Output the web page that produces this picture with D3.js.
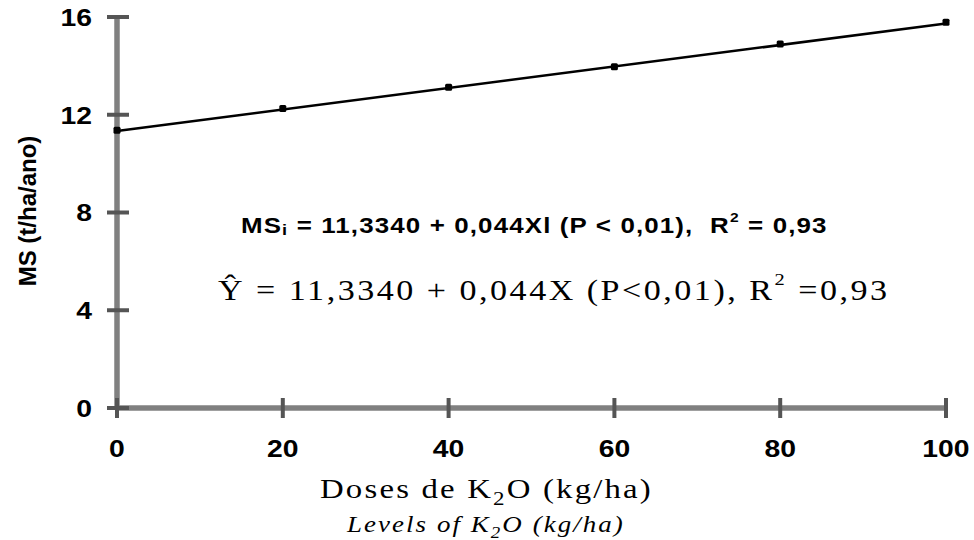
<!DOCTYPE html>
<html>
<head>
<meta charset="utf-8">
<script src="https://cdn.jsdelivr.net/npm/d3@7"></script>
<style>
  html, body { margin: 0; padding: 0; background: #fff; }
  svg { display: block; }
</style>
</head>
<body>
<svg id="chart" width="974" height="540"></svg>
<script>
// ---- data ----
const doses = [0, 20, 40, 60, 80, 100];
const msValues = [11.37, 12.26, 13.13, 13.96, 14.9, 15.79];
const xTicks = [0, 20, 40, 60, 80, 100];
const yTicks = [0, 4, 8, 12, 16];
const intercept = 11.334;
const slope = 0.044;
const eq1Parts = ["MS", "i", " = 11,3340 + 0,044Xl (P < 0,01),  R", "2", " = 0,93"];
const eq2Parts = ["Ŷ = 11,3340 + 0,044X (P<0,01), R", "2", " =0,93"];
const xTitleParts = ["Doses de K", "2", "O (kg/ha)"];
const xSubParts = ["Levels of K", "2", "O (kg/ha)"];
const yTitle = "MS (t/ha/ano)";

// ---- layout ----
const svg = d3.select("#chart");
const x = d3.scaleLinear().domain([0, 100]).range([117, 946]);
const y = d3.scaleLinear().domain([0, 16]).range([408, 17]);
const SX = 1.18; // horizontal stretch of the reference text

const axisG = svg.append("g");
// axis lines
axisG.append("line").attr("x1", x(0)).attr("x2", x(100)).attr("y1", y(0)).attr("y2", y(0))
  .attr("stroke", "#808080").attr("stroke-width", 5.5);
axisG.append("line").attr("x1", x(0)).attr("x2", x(0)).attr("y1", y(0)).attr("y2", y(16))
  .attr("stroke", "#808080").attr("stroke-width", 5.5);

// ticks
axisG.selectAll(".xt").data(xTicks).join("line")
  .attr("x1", d => x(d)).attr("x2", d => x(d))
  .attr("y1", y(0) - 10).attr("y2", y(0) + 10)
  .attr("stroke", "#555").attr("stroke-width", 4);
axisG.selectAll(".yt").data(yTicks).join("line")
  .attr("y1", d => y(d)).attr("y2", d => y(d))
  .attr("x1", x(0) - 10).attr("x2", x(0) + 12)
  .attr("stroke", "#555").attr("stroke-width", 4);

// tick labels
function stretch(sel, ax) {
  sel.attr("transform", function() {
    const a = ax(this);
    return `translate(${a},0) scale(${SX},1) translate(${-a},0)`;
  });
}
const xl = svg.selectAll(".xl").data(xTicks).join("text")
  .attr("x", d => x(d)).attr("y", 457)
  .attr("text-anchor", "middle")
  .attr("font-family", "Liberation Sans, Arial, sans-serif")
  .attr("font-weight", "bold").attr("font-size", 24)
  .text(d => d);
stretch(xl, n => +n.getAttribute("x"));
const yl = svg.selectAll(".yl").data(yTicks).join("text")
  .attr("x", 92).attr("y", d => y(d) + 9)
  .attr("text-anchor", "end")
  .attr("font-family", "Liberation Sans, Arial, sans-serif")
  .attr("font-weight", "bold").attr("font-size", 24)
  .text(d => d);
stretch(yl, () => 92);

// y title
svg.append("text")
  .attr("transform", `translate(36,211) rotate(-90)`)
  .attr("text-anchor", "middle")
  .attr("font-family", "Liberation Sans, Arial, sans-serif")
  .attr("font-weight", "bold").attr("font-size", 24)
  .text(yTitle);

// regression line
const line = d3.line().x(d => x(d)).y(d => y(intercept + slope * d));
svg.append("path").datum([0, 100]).attr("d", line)
  .attr("fill", "none").attr("stroke", "#000").attr("stroke-width", 2.5);

// points
svg.selectAll(".pt").data(doses).join("rect")
  .attr("x", d => x(d) - 3.5).attr("y", (d, i) => y(msValues[i]) - 3.5)
  .attr("width", 7).attr("height", 7).attr("rx", 1.5).attr("fill", "#000");

// rich text helper: parts alternate normal / sub-or-sup
function richText(parts, opts) {
  const t = svg.append("text")
    .attr("x", opts.x).attr("y", opts.y)
    .attr("font-family", opts.family)
    .attr("font-size", opts.size)
    .attr("font-weight", opts.weight || "normal")
    .attr("font-style", opts.style || "normal")
    .attr("xml:space", "preserve")
    .style("white-space", "pre");
  const subDy = opts.subDy != null ? opts.subDy : 0.25;
  const supDy = opts.supDy != null ? opts.supDy : 0.45;
  parts.forEach((p, i) => {
    const kind = opts.kinds[i];
    const ts = t.append("tspan").text(p);
    if (kind === "sub") {
      ts.attr("font-size", opts.size * 0.7).attr("dy", opts.size * subDy);
    } else if (kind === "sup") {
      ts.attr("font-size", opts.size * 0.6).attr("dy", -opts.size * supDy);
    } else if (i > 0) {
      const prev = opts.kinds[i - 1];
      if (prev === "sub") ts.attr("dy", -opts.size * subDy);
      if (prev === "sup") ts.attr("dy", opts.size * supDy);
    }
  });
  // fit to target width: stretch SX, then letter-spacing for the remainder
  const nChars = parts.join("").length;
  const w0 = t.node().getComputedTextLength();
  const extra = opts.width / SX - w0;
  if (extra > 0) {
    t.attr("letter-spacing", extra / (nChars - 1));
  }
  const w1 = t.node().getComputedTextLength();
  const k = opts.width / w1;
  t.attr("transform", `translate(${opts.x},0) scale(${k},1) translate(${-opts.x},0)`);
  return t;
}

richText(eq1Parts, {
  x: 241, y: 233, width: 587, size: 22, weight: "bold",
  family: "Liberation Sans, Arial, sans-serif",
  kinds: ["n", "sub", "n", "sup", "n"], subDy: 0.08, supDy: 0.5
});
richText(eq2Parts, {
  x: 218, y: 300, width: 672, size: 29,
  family: "Liberation Serif, Times New Roman, serif",
  kinds: ["n", "sup", "n"], supDy: 0.5
});
richText(xTitleParts, {
  x: 320, y: 498, width: 333, size: 28,
  family: "Liberation Serif, Times New Roman, serif",
  kinds: ["n", "sub", "n"]
});
richText(xSubParts, {
  x: 347, y: 532, width: 278, size: 23, style: "italic",
  family: "Liberation Serif, Times New Roman, serif",
  kinds: ["n", "sub", "n"]
});
</script>
</body>
</html>
